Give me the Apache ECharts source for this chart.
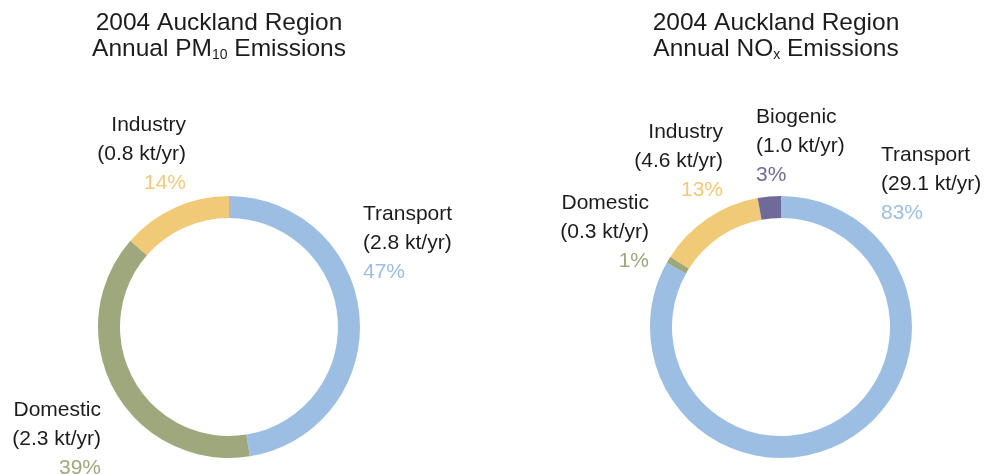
<!DOCTYPE html>
<html>
<head>
<meta charset="utf-8">
<script src="https://cdn.jsdelivr.net/npm/echarts@6/dist/echarts.min.js"></script>
<style>html,body{margin:0;padding:0;background:#fff}#c{width:985px;height:474px}</style>
</head>
<body>
<div id="c"></div>
<script>
// Data
var pmCategories = ['Transport', 'Domestic', 'Industry'];
var pmValues = [2.8, 2.3, 0.8];
var noxCategories = ['Transport', 'Domestic', 'Industry', 'Biogenic'];
var noxValues = [29.1, 0.3, 4.6, 1.0];
var unitLabel = 'kt/yr';

// Styles
var colorMap = {
  Transport: '#9BBEE2',
  Domestic: '#9EA87C',
  Industry: '#F0CA77',
  Biogenic: '#706A9B'
};
var FONT = 'Liberation Sans, Arial, sans-serif';
var TEXT = '#1c1c1c';
// label anchor positions (layout only)
var pmLabelPos = [
  {x: 363, y: 200, align: 'left'},
  {x: 101, y: 396, align: 'right'},
  {x: 186, y: 111, align: 'right'}
];
var noxLabelPos = [
  {x: 881, y: 141, align: 'left'},
  {x: 649, y: 189, align: 'right'},
  {x: 723, y: 118, align: 'right'},
  {x: 756, y: 103, align: 'left'}
];

var rich = {n: {fontFamily: FONT, fontSize: 21, color: TEXT, lineHeight: 29}};
Object.keys(colorMap).forEach(function (k) {
  rich['p' + k] = {fontFamily: FONT, fontSize: 21, color: colorMap[k], lineHeight: 29};
});

function makeData(cats, vals) {
  return cats.map(function (c, i) {
    return {name: c, value: vals[i], itemStyle: {color: colorMap[c]}};
  });
}

function makeSeries(cats, vals, center, pos) {
  return {
    type: 'pie',
    center: center,
    radius: [109, 131],
    startAngle: 90,
    clockwise: true,
    avoidLabelOverlap: false,
    silent: true,
    itemStyle: {borderWidth: 0},
    label: {
      show: true,
      position: 'outside',
      formatter: function (p) {
        return '{n|' + p.name + '}\n{n|(' + p.value.toFixed(1) + ' ' + unitLabel + ')}\n{p' + p.name + '|' + Math.round(p.percent) + '%}';
      },
      rich: rich
    },
    labelLine: {show: false},
    labelLayout: function (params) {
      var q = pos[params.dataIndex];
      return {x: q.x, y: q.y, align: q.align, verticalAlign: 'top'};
    },
    data: makeData(cats, vals)
  };
}

var titleRich = {
  t: {fontFamily: FONT, fontSize: 24.5, fontWeight: 'normal', color: TEXT, lineHeight: 26},
  s: {fontFamily: FONT, fontSize: 14, fontWeight: 'normal', color: TEXT, lineHeight: 10, verticalAlign: 'bottom'}
};

var chart = echarts.init(document.getElementById('c'), null, {renderer: 'canvas'});
chart.setOption({
  animation: false,
  backgroundColor: '#ffffff',
  title: [
    {
      text: '{t|2004 Auckland Region}\n{t|Annual PM}{s|10}{t| Emissions}',
      left: 219, top: 10, textAlign: 'center', padding: 0,
      textStyle: {rich: titleRich, align: 'center', fontWeight: 'normal'}
    },
    {
      text: '{t|2004 Auckland Region}\n{t|Annual NO}{s|x}{t| Emissions}',
      left: 776, top: 10, textAlign: 'center', padding: 0,
      textStyle: {rich: titleRich, align: 'center', fontWeight: 'normal'}
    }
  ],
  series: [
    makeSeries(pmCategories, pmValues, [229, 327], pmLabelPos),
    makeSeries(noxCategories, noxValues, [781, 327], noxLabelPos)
  ]
});
</script>
</body>
</html>
